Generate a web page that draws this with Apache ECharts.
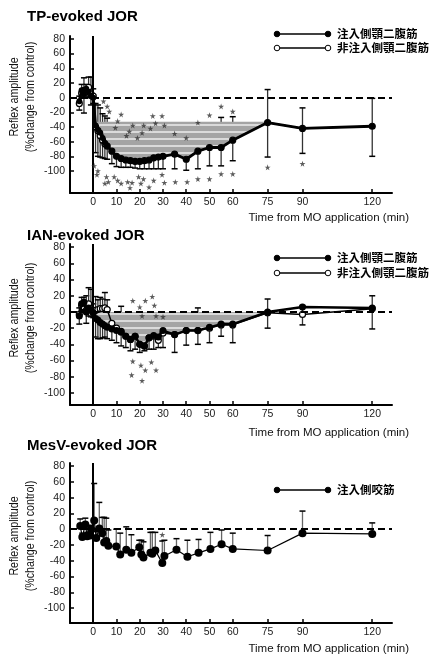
<!DOCTYPE html>
<html>
<head>
<meta charset="utf-8">
<script src="https://cdn.jsdelivr.net/npm/echarts@6/dist/echarts.min.js"></script>
<style>
html, body { margin: 0; padding: 0; background: #fff; }
#main { width: 430px; height: 657px; }
</style>
</head>
<body>
<div id="main"></div>
<script type="text/javascript">
// 数据
var xTicks = [0, 10, 20, 30, 40, 50, 60, 75, 90, 120];
var yTicks = [-100, -80, -60, -40, -20, 0, 20, 40, 60, 80];

var times = [-6, -5, -4, -3, -2, -1, 0, 1, 2, 3, 4, 5, 6, 8, 10, 12, 14, 16, 18, 20, 22, 24, 26, 28, 30, 35, 40, 45, 50, 55, 60, 75, 90, 120];

// TP-evoked JOR
var tpIpsi      = [-5, 10, 5, 12, 8, 2, 0, -38, -44, -48, -55, -62, -66, -73, -80, -83, -85, -86, -87, -87, -86, -85, -82, -81, -80, -77, -84, -73, -68, -68, -58, -34, -42, -39];
var tpIpsiErr   = [12, 8, 26, 10, 8, 12, 8, 37, 36, 33, 27, 21, 18, 17, 14, 12, 10, 9, 9, 10, 11, 12, 15, 16, 17, 20, 15, 24, 25, 25, 28, 47, 34, 41];
var tpContra    = [-8, 6, 10, 8, 14, 5, 2, -40, -45, -52, -58, -63, -66, -73, -80, -83, -85, -86, -87, -87, -86, -85, -82, -81, -80, -77, -84, -73, -68, -68, -58, -34, -42, -39];
var tpContraErr = [10, 12, 17, 10, 14, 23, 10, 32, 35, 38, 36, 38, 38, 28, 30, 30, 28, 26, 28, 27, 26, 28, 30, 28, 30, 30, 32, 28, 30, 41, 32, 45, 28, 38];
var tpStars = [[4.4, -5], [6, -12], [6.9, -19], [12, -23], [10.5, -32], [9.5, -41], [17, -38], [15.5, -46], [14.3, -52],
  [21.7, -38], [21, -48], [19, -55], [25.6, -25], [26.8, -35], [24.6, -42], [29.6, -25], [30.6, -38], [35, -49], [40, -55],
  [45, -34], [50, -24], [55, -12], [60, -19],
  [0.4, -93], [2, -100], [1.6, -105], [5.7, -108], [6.5, -115], [5, -117], [9, -108], [10.5, -113], [12, -117], [14.8, -115],
  [16.7, -116], [15.8, -123], [19.5, -108], [21.6, -111], [20.5, -117], [24, -122], [26, -113], [29.6, -105], [30.6, -116],
  [35.3, -115], [40.4, -115], [45, -111], [50, -111], [55, -104], [60, -104], [75, -95], [90, -90]];

// IAN-evoked JOR
var ianIpsi      = [-5, 10, 12, 0, 5, 2, -1, -8, -10, -13, -15, -17, -19, -21, -23, -25, -30, -34, -30, -40, -42, -32, -29, -31, -23, -28, -23, -23, -19, -15, -15, 0, 6, 5];
var ianIpsiErr   = [10, 8, 8, 14, 10, 8, 6, 23, 23, 20, 17, 14, 14, 14, 15, 17, 14, 14, 16, 10, 6, 14, 17, 13, 21, 22, 18, 17, 19, 15, 23, 20, 22, 26];
var ianContra    = [-3, 8, 6, 2, 10, 4, 0, 2, 3, 4, 4, 5, 3, -14, -20, -24, -30, -34, -30, -40, -42, -32, -30, -35, -26, -28, -23, -23, -20, -16, -16, -1, -3, 4];
var ianContraErr = [8, 10, 12, 18, 20, 24, 10, 17, 12, 14, 12, 19, 12, 10, 8, 31, 12, 10, 12, 14, 12, 10, 12, 14, 10, 12, 10, 28, 10, 10, 10, 17, 11, 16];
var ianStars = [[17, 14], [20, 6], [22.4, 14], [25.4, 19], [26.3, 8], [21, -5], [27, -5], [30, -6],
  [17, -61], [20.5, -66], [25, -62], [22.4, -72], [27, -72], [16.5, -78], [21, -85]];

// MesV-evoked JOR
var mesTimes = [-5.6, -4.7, -3.4, -2.6, -1.3, -0.9, 0.4, 1.3, 2.6, 3.9, 4.7, 5.6, 6.5, 9.9, 11.6, 14.2, 16.4, 19.8, 20.7, 21.6, 24.6, 25.4, 26.7, 29.7, 30.6, 35.8, 40.5, 45.3, 50.4, 55.2, 60, 75, 90, 120];
var mesIpsi  = [4, -10, 6, -9, -8, 0, 11, -11, 1, -5, -17, -15, -21, -22, -32, -26, -30, -23, -32, -36, -30, -31, -27, -43, -34, -26, -35, -30, -25, -19, -25, -27, -5, -6];
var mesErr   = [9, 5, 8, 5, 5, 5, 47, 8, 33, 20, 32, 29, 20, 22, 27, 29, 23, 9, 18, 20, 26, 27, 23, 28, 20, 14, 21, 17, 21, 18, 20, 19, 28, 14];
var mesStars = [[29.7, -7]];

var titles = ['TP-evoked JOR', 'IAN-evoked JOR', 'MesV-evoked JOR'];
var legendIpsi = '注入側顎二腹筋';
var legendContra = '非注入側顎二腹筋';
var legendMes = '注入側咬筋';
var xName = 'Time from MO application (min)';

var FONT = "'Liberation Sans', Arial, sans-serif";
var CJK = "'Noto Sans CJK JP', 'Noto Sans CJK SC', sans-serif";
var STAR = 'path://M50,0 L61,35 L98,35 L68,57 L79,91 L50,70 L21,91 L32,57 L2,35 L39,35 Z';

var myChart = echarts.init(document.getElementById('main'), null, {renderer: 'canvas'});

// 横条纹
var cv = document.createElement('canvas');
cv.width = 4; cv.height = 7;
var cx = cv.getContext('2d');
cx.fillStyle = '#a4a4a4'; cx.fillRect(0, 0, 4, 5);
cx.fillStyle = '#dadada'; cx.fillRect(0, 5, 4, 2);
var stripe = {image: cv, repeat: 'repeat'};

var panels = [
    {top: 36, height: 157, min: -130, xNameY: 218, nameY: 97},
    {top: 244, height: 161, min: -115, xNameY: 433, nameY: 318},
    {top: 463, height: 160, min: -119, xNameY: 649, nameY: 536}
];

function zip(ts, vs) {
    return ts.map(function (t, i) { return [t, vs[i]]; });
}

function lineSeries(gi, ts, vs, filled, width, size, z) {
    return {
        type: 'line', xAxisIndex: gi, yAxisIndex: gi, data: zip(ts, vs),
        symbol: 'circle', symbolSize: size, showAllSymbol: true, z: z,
        lineStyle: {color: '#000', width: width},
        itemStyle: {color: filled ? '#000' : '#fff', borderColor: '#000', borderWidth: filled ? 0 : 1.2},
        animation: false, silent: true
    };
}

function errSeries(gi, ts, vs, errs, dir, color, z) {
    var data = ts.map(function (t, i) { return [t, vs[i], vs[i] + dir * errs[i]]; });
    return {
        type: 'custom', xAxisIndex: gi, yAxisIndex: gi, z: z, silent: true,
        encode: {x: 0, y: [1, 2]}, data: data, animation: false,
        renderItem: function (p, api) {
            var a = api.coord([api.value(0), api.value(1)]);
            var b = api.coord([api.value(0), api.value(2)]);
            return {type: 'group', children: [
                {type: 'line', shape: {x1: a[0], y1: a[1], x2: b[0], y2: b[1]}, style: {stroke: color, lineWidth: 1.3}},
                {type: 'line', shape: {x1: b[0] - 3, y1: b[1], x2: b[0] + 3, y2: b[1]}, style: {stroke: '#000', lineWidth: 1.5}}
            ]};
        }
    };
}

function bandSeries(gi, ts, vs, topVal, t0, t1) {
    return {
        type: 'custom', xAxisIndex: gi, yAxisIndex: gi, z: 2, silent: true,
        encode: {x: 0, y: 1}, data: [[t0, topVal]], animation: false,
        renderItem: function (p, api) {
            var pts = [];
            for (var i = 0; i < ts.length; i++) {
                if (ts[i] >= t0 && ts[i] <= t1) pts.push(api.coord([ts[i], Math.min(vs[i], topVal)]));
            }
            pts.push(api.coord([t1, topVal]));
            pts.push(api.coord([t0, topVal]));
            return {type: 'polygon', shape: {points: pts}, style: {fill: stripe}};
        }
    };
}

function refLines(gi) {
    return {
        type: 'line', xAxisIndex: gi, yAxisIndex: gi, data: [], z: 3, silent: true,
        markLine: {
            symbol: 'none', silent: true, animation: false, label: {show: false},
            data: [
                {xAxis: 0, lineStyle: {type: 'solid', width: 2, color: '#000'}},
                {yAxis: 0, lineStyle: {type: [7, 4], width: 2, color: '#000'}}
            ]
        }
    };
}

function starSeries(gi, pts) {
    return {
        type: 'scatter', xAxisIndex: gi, yAxisIndex: gi, data: pts, z: 6, silent: true,
        symbol: STAR, symbolSize: 6, itemStyle: {color: '#333'}, animation: false
    };
}

var grids = [], xAxes = [], yAxes = [], texts = [];
panels.forEach(function (pn, i) {
    grids.push({left: 70, right: 38, top: pn.top, height: pn.height});
    xAxes.push({
        gridIndex: i, type: 'value', min: -10, max: 128.5,
        axisLine: {onZero: false, lineStyle: {color: '#000', width: 2}},
        axisTick: {inside: true, length: 4, customValues: xTicks, lineStyle: {color: '#000', width: 1.5}},
        axisLabel: {customValues: xTicks, fontSize: 10.5, color: '#222', margin: 4, fontFamily: FONT},
        splitLine: {show: false}
    });
    yAxes.push({
        gridIndex: i, type: 'value', min: pn.min, max: 84,
        axisLine: {show: true, onZero: false, lineStyle: {color: '#000', width: 2}},
        axisTick: {show: true, inside: true, length: 4, customValues: yTicks, lineStyle: {color: '#000', width: 1.5}},
        axisLabel: {customValues: yTicks, fontSize: 10.5, color: '#222', margin: 5, fontFamily: FONT},
        splitLine: {show: false}
    });
    texts.push({type: 'text', x: 15, y: pn.nameY, rotation: Math.PI / 2, scaleX: 0.85, z: 100,
        style: {text: 'Reflex amplitude', font: '12.5px ' + FONT, fill: '#111', align: 'center', verticalAlign: 'middle'}});
    texts.push({type: 'text', x: 31, y: pn.nameY, rotation: Math.PI / 2, scaleX: 0.85, z: 100,
        style: {text: '(%change from control)', font: '12.5px ' + FONT, fill: '#111', align: 'center', verticalAlign: 'middle'}});
    texts.push({type: 'text', x: 409, y: pn.xNameY, z: 100,
        style: {text: xName, font: '11.5px ' + FONT, fill: '#111', align: 'right', verticalAlign: 'middle'}});
});

function legendRow(y, filled, label) {
    var x1 = 277, x2 = 328;
    return [
        {type: 'line', z: 100, shape: {x1: x1, y1: y, x2: x2, y2: y}, style: {stroke: '#000', lineWidth: 1.5}},
        {type: 'circle', z: 101, shape: {cx: x1, cy: y, r: 2.8}, style: {fill: filled ? '#000' : '#fff', stroke: '#000', lineWidth: 1}},
        {type: 'circle', z: 101, shape: {cx: x2, cy: y, r: 2.8}, style: {fill: filled ? '#000' : '#fff', stroke: '#000', lineWidth: 1}},
        {type: 'text', z: 101, x: x2 + 9, y: y, style: {text: label, font: 'bold 11.5px ' + CJK, fill: '#000', verticalAlign: 'middle'}}
    ];
}
texts = texts.concat(legendRow(34, true, legendIpsi), legendRow(48, false, legendContra),
    legendRow(258, true, legendIpsi), legendRow(273, false, legendContra),
    legendRow(490, true, legendMes));

var option = {
    backgroundColor: '#fff',
    animation: false,
    title: titles.map(function (t, i) {
        return {text: t, left: 27, top: [9, 228, 438][i], padding: 0,
            textStyle: {fontSize: 15, fontWeight: 'bold', color: '#000', fontFamily: FONT}};
    }),
    grid: grids,
    xAxis: xAxes,
    yAxis: yAxes,
    graphic: texts,
    series: [
        // TP
        errSeries(0, times, tpContra, tpContraErr, 1, '#333', 1),
        bandSeries(0, times, tpIpsi, -33, 1, 75),
        refLines(0),
        errSeries(0, times, tpIpsi, tpIpsiErr, -1, '#333', 3),
        lineSeries(0, times, tpContra, false, 1.5, 6, 4),
        lineSeries(0, times, tpIpsi, true, 2.8, 6, 5),
        starSeries(0, tpStars),
        // IAN
        errSeries(1, times, ianContra, ianContraErr, 1, '#333', 1),
        bandSeries(1, times, ianIpsi, 0, 0, 75),
        refLines(1),
        errSeries(1, times, ianIpsi, ianIpsiErr, -1, '#333', 3),
        lineSeries(1, times, ianContra, false, 1.5, 6, 4),
        lineSeries(1, times, ianIpsi, true, 2.5, 7, 5),
        starSeries(1, ianStars),
        // MesV
        refLines(2),
        errSeries(2, mesTimes, mesIpsi, mesErr, 1, '#666', 3),
        lineSeries(2, mesTimes, mesIpsi, true, 1.2, 8, 5),
        starSeries(2, mesStars)
    ]
};
myChart.setOption(option);
</script>
</body>
</html>
